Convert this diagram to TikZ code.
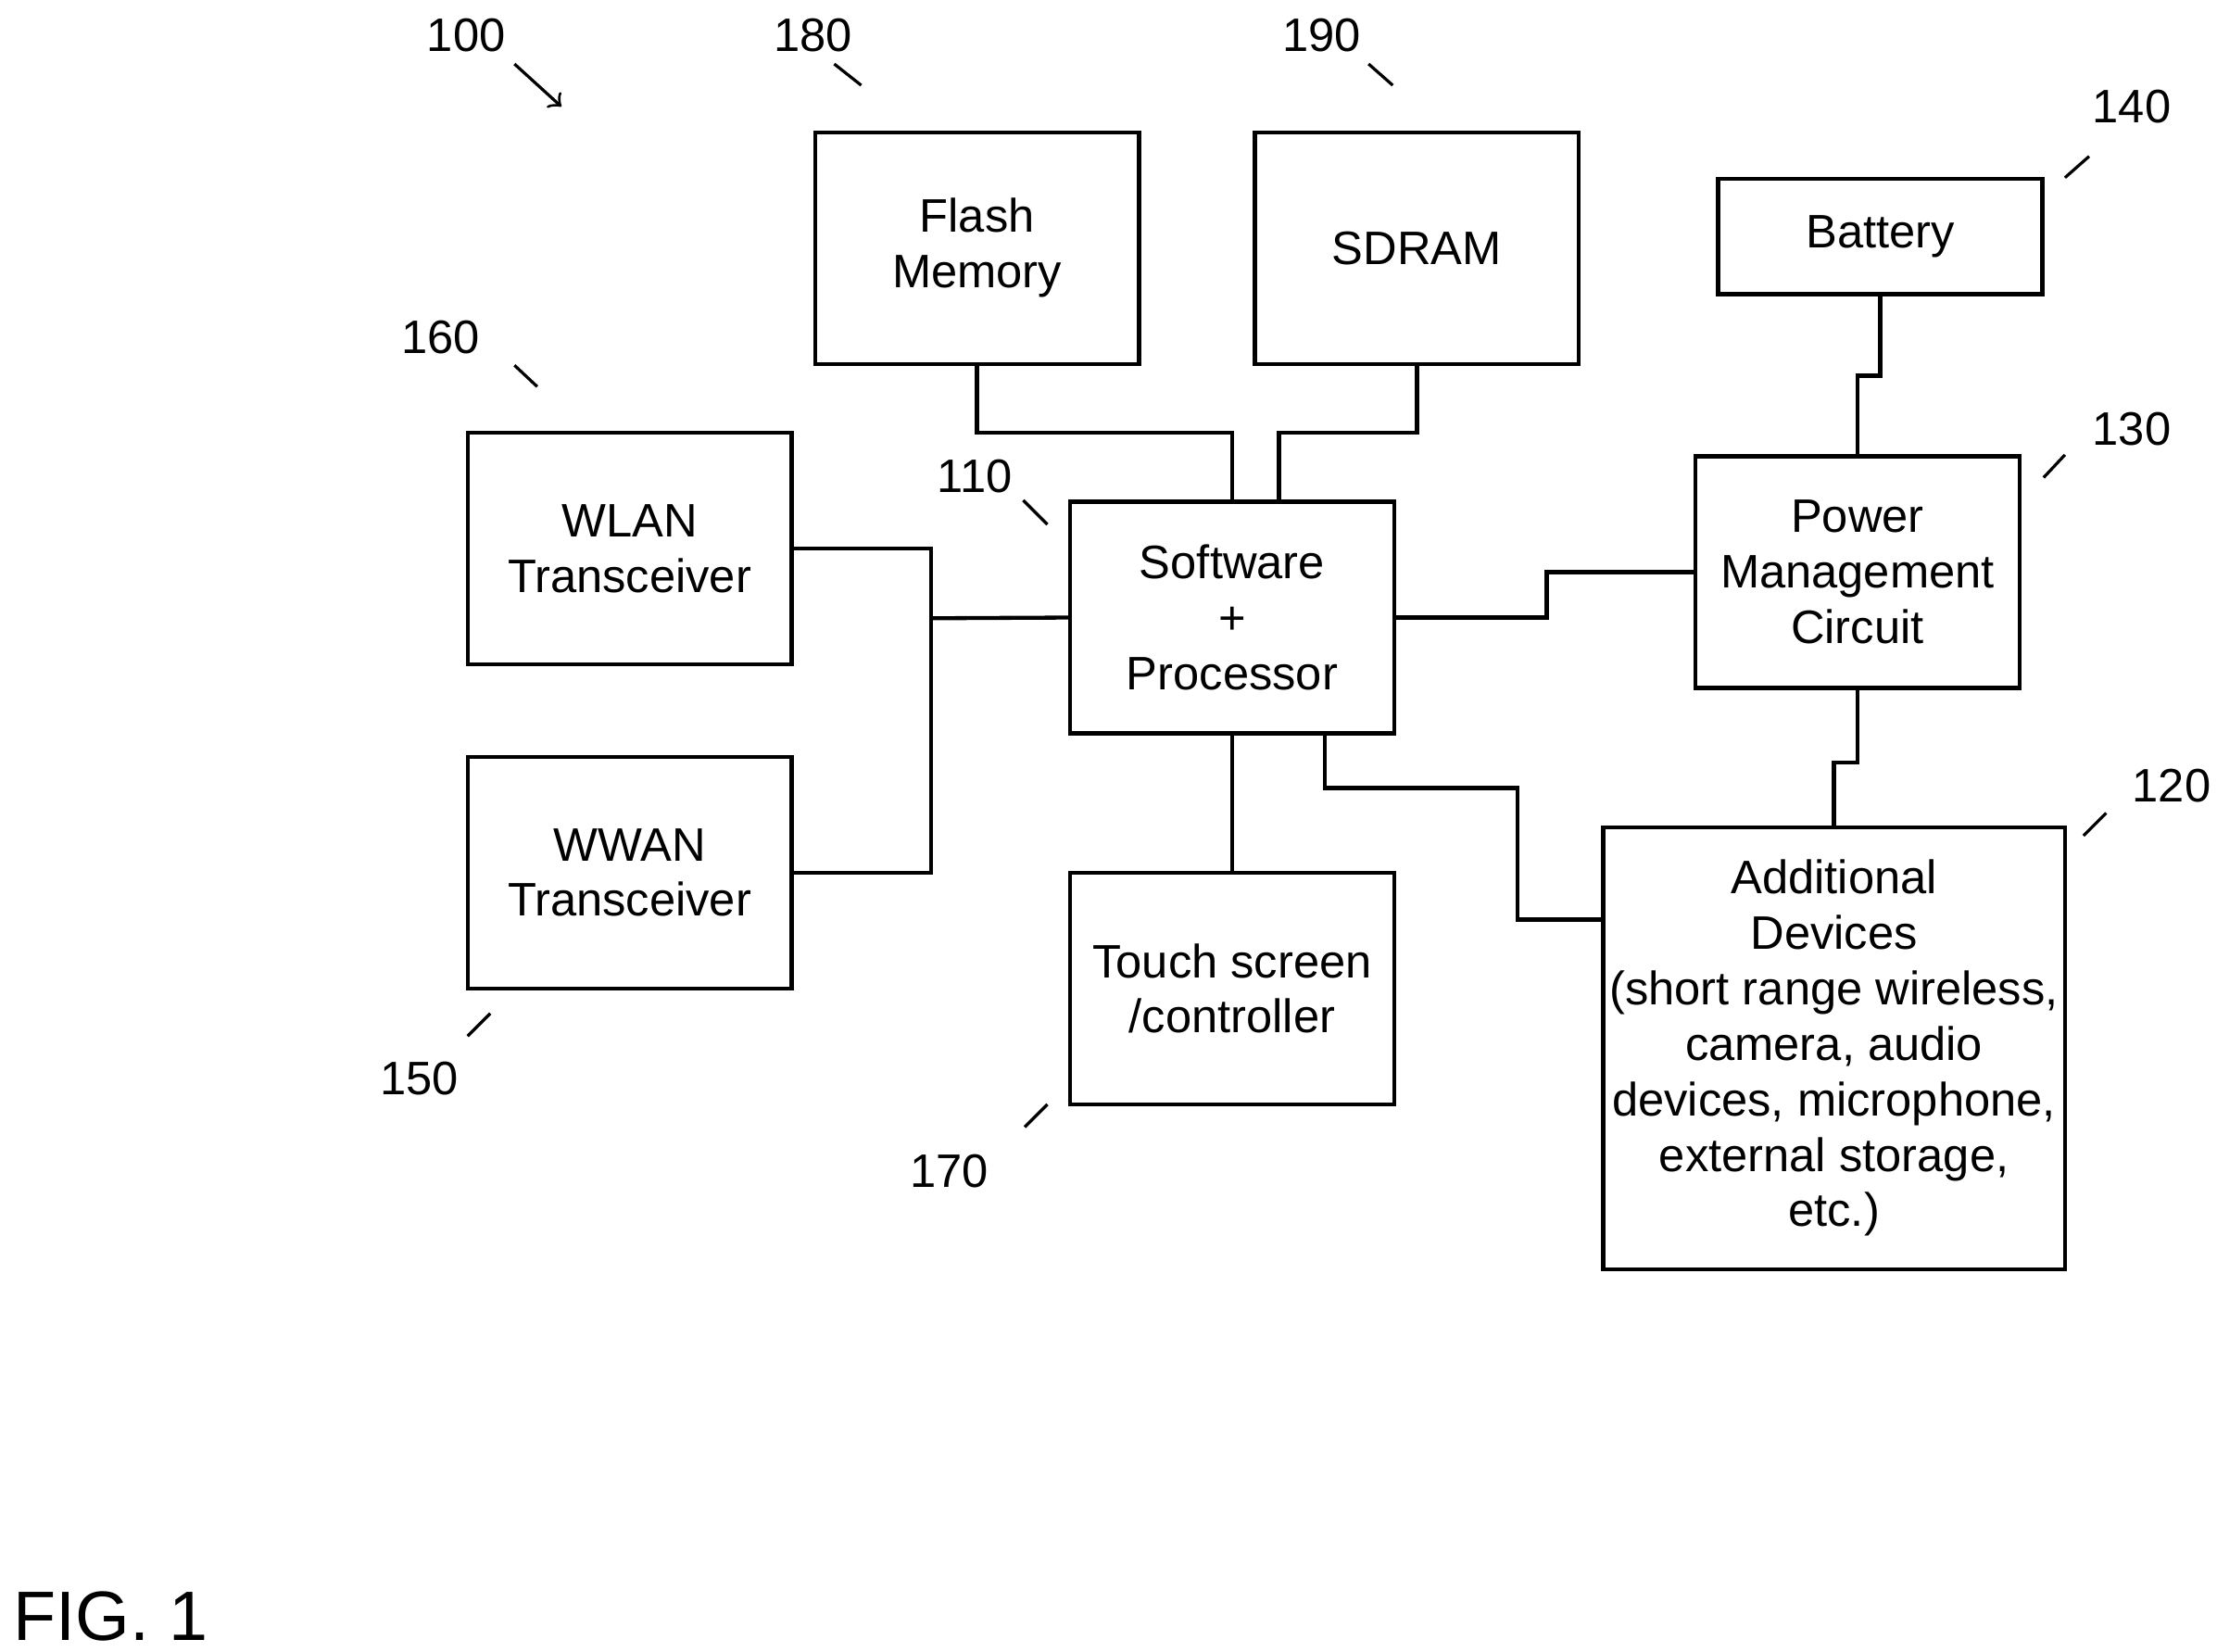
\documentclass[tikz,border=0pt]{standalone}
\usepackage{fontspec}
\setmainfont{Liberation Sans}
\usetikzlibrary{positioning,calc}

\begin{document}
\begin{tikzpicture}[
    x=0.1mm, y=-0.1mm,
    every node/.style = {font=\fontsize{9.4}{11.1}\selectfont},
    box/.style = {rectangle, draw, line width=0.8pt, align=center, minimum width=22.8mm, minimum height=16.3mm, inner sep=0pt},
    line/.style = {draw, line width=0.8pt},
    tick/.style = {draw, line width=0.6pt}
]
\useasboundingbox (0,0) rectangle (1560,1162);
% blocks
\node[box] (flash) at (687.5,174.5) {Flash\\Memory};
\node[box] (sdram) at (997,174.5) {SDRAM};
\node[box, minimum height=8.1mm] (bat) at (1323,166.5) {Battery};
\node[box] (wlan) at (443,386) {WLAN\\Transceiver};
\node[box] (wwan) at (443,614) {WWAN\\Transceiver};
\node[box] (proc) at (867,434.5) {Software\\+\\Processor};
\node[box] (pm) at (1307,402.5) {Power\\Management\\Circuit};
\node[box] (touch) at (867,695.5) {Touch screen\\/controller};
\node[box, minimum width=32.5mm, minimum height=31.1mm] (add) at (1290.5,737.5)
    {Additional\\Devices\\(short range wireless,\\camera, audio\\devices, microphone,\\external storage,\\etc.)};

% connections
\coordinate (bus) at (655,435);
\coordinate (addin) at (1128,647);
\path[line] (flash.south) -- ++(0,47) -| (proc.north);
\path[line] (sdram.south) -- ++(0,47) -| ([xshift=3.3mm]proc.north);
\path[line] (bat.south) -- ++(0,56) -| (pm.north);
\path[line] (wlan.east) -| (bus) |- (wwan.east);
\path[line] (bus) -- (proc.west);
\path[line] (proc.east) -- ++(106,0) |- (pm.west);
\path[line] (proc.south) -- (touch.north);
\path[line] ([xshift=6.5mm]proc.south) -- ++(0,37) -| (1068,647) -- (addin);
\path[line] (pm.south) -- ++(0,51) -| (add.north);

% reference numerals
\node (n100) at (328,25) {100};
\draw[line width=0.6pt, ->] (362,45) -- (395,75);
\node (n180) at (572,25) {180};
\path[tick] (587,45) -- (606,60);
\node (n190) at (930,25) {190};
\path[tick] (963,45) -- (980,60);
\node (n140) at (1500,75) {140};
\path[tick] (1470,110) -- (1453,125);
\node (n160) at (310,237) {160};
\path[tick] (362,257) -- (378,272);
\node (n110) at (686,335) {110};
\path[tick] (720,352) -- (737,369);
\node (n130) at (1500,302) {130};
\path[tick] (1453,320) -- (1438,336);
\node (n120) at (1528,553) {120};
\path[tick] (1482,572) -- (1466,588);
\node (n150) at (295,759) {150};
\path[tick] (345,713) -- (329,729);
\node (n170) at (668,824) {170};
\path[tick] (737,777) -- (721,793);
\node[font=\fontsize{14}{17}\selectfont] (fig) at (78,1137) {FIG. 1};
\end{tikzpicture}
\end{document}
